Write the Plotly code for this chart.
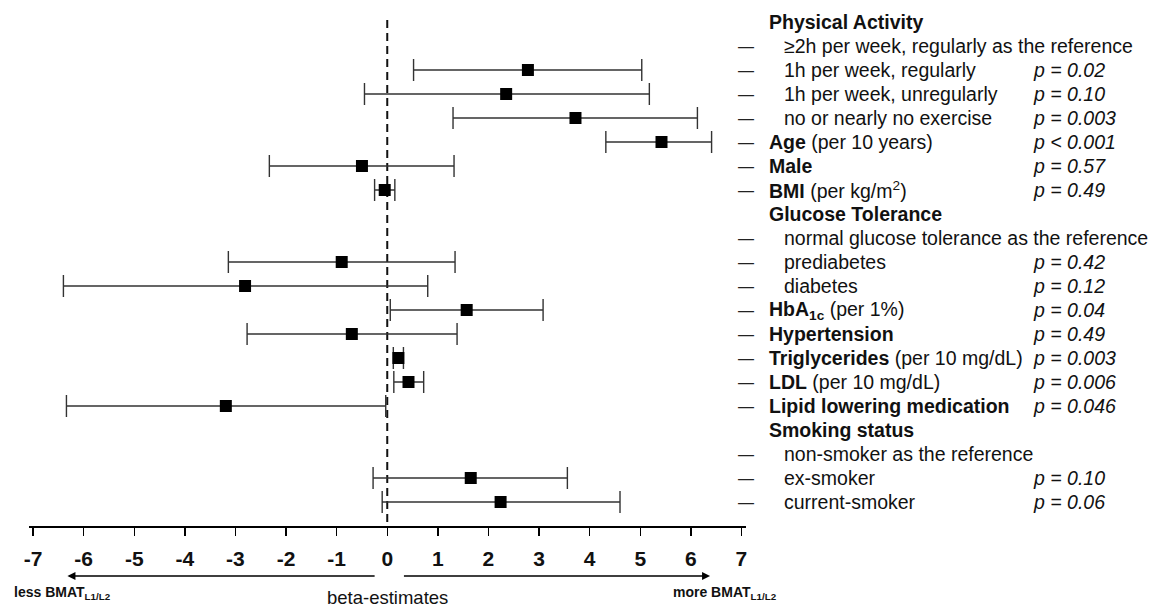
import plotly.graph_objects as go

# ---------------- data ----------------
row_labels = [
    "<b>Physical Activity</b>",
    "≥2h per week, regularly as the reference",
    "1h per week, regularly",
    "1h per week, unregularly",
    "no or nearly no exercise",
    "<b>Age</b> (per 10 years)",
    "<b>Male</b>",
    "<b>BMI</b> (per kg/m<sup>2</sup>)",
    "<b>Glucose Tolerance</b>",
    "normal glucose tolerance as the reference",
    "prediabetes",
    "diabetes",
    "<b>HbA<sub>1c</sub></b> (per 1%)",
    "<b>Hypertension</b>",
    "<b>Triglycerides</b> (per 10 mg/dL)",
    "<b>LDL</b> (per 10 mg/dL)",
    "<b>Lipid lowering medication</b>",
    "<b>Smoking status</b>",
    "non-smoker as the reference",
    "ex-smoker",
    "current-smoker",
]
# 0 = group header (no dash), 1 = sub item (indented), 2 = main variable
row_kind = [0, 1, 1, 1, 1, 2, 2, 2, 0, 1, 1, 1, 2, 2, 2, 2, 2, 0, 1, 1, 1]

estimate = [None, None, 2.78, 2.35, 3.72, 5.42, -0.50, -0.05, None, None,
            -0.90, -2.81, 1.57, -0.70, 0.22, 0.42, -3.19, None, None, 1.65, 2.24]
ci_lower = [None, None, 0.52, -0.45, 1.30, 4.32, -2.33, -0.25, None, None,
            -3.14, -6.40, 0.06, -2.77, 0.12, 0.13, -6.34, None, None, -0.28, -0.10]
ci_upper = [None, None, 5.03, 5.18, 6.13, 6.41, 1.32, 0.15, None, None,
            1.34, 0.80, 3.08, 1.38, 0.32, 0.72, -0.03, None, None, 3.56, 4.60]
p_values = ["", "", "p = 0.02", "p = 0.10", "p = 0.003", "p < 0.001", "p = 0.57",
            "p = 0.49", "", "", "p = 0.42", "p = 0.12", "p = 0.04", "p = 0.49",
            "p = 0.003", "p = 0.006", "p = 0.046", "", "", "p = 0.10", "p = 0.06"]

x_ticks = [-7, -6, -5, -4, -3, -2, -1, 0, 1, 2, 3, 4, 5, 6, 7]

# ---------------- layout geometry ----------------
W, H = 1151, 607
L, R, T, B = 29, 405, 10, 81
PW = W - L - R
PH = H - T - B
FONT = "Liberation Sans, Arial, sans-serif"
LABEL_SIZE = 19.5


def px_x(px):
    return (px - L) / PW


def px_y(py):
    return (T + PH - py) / PH


idx = [i for i, e in enumerate(estimate) if e is not None]
xs = [estimate[i] for i in idx]
ys = [i for i in idx]
err_plus = [ci_upper[i] - estimate[i] for i in idx]
err_minus = [estimate[i] - ci_lower[i] for i in idx]

fig = go.Figure()

# dashed zero reference line
fig.add_trace(go.Scatter(
    x=[0, 0], y=[-0.08, 21], mode="lines",
    line=dict(color="#111", width=2, dash="8px,5px"),
    hoverinfo="skip", showlegend=False))

fig.add_trace(go.Scatter(
    x=xs, y=ys, mode="markers",
    marker=dict(symbol="square", size=12, color="black"),
    error_x=dict(type="data", symmetric=False, array=err_plus,
                 arrayminus=err_minus, color="#333", thickness=1.4, width=11),
    showlegend=False, hoverinfo="skip"))

annotations = []
for i, lab in enumerate(row_labels):
    kind = row_kind[i]
    if kind != 0:
        annotations.append(dict(
            x=px_x(746), y=i, xref="paper", yref="y", text="—",
            showarrow=False, xanchor="center", yanchor="middle",
            font=dict(family=FONT, size=16, color="#222")))
    xpx = 782 if kind == 1 else 767
    annotations.append(dict(
        x=px_x(xpx), y=i, xref="paper", yref="y", text=lab,
        showarrow=False, xanchor="left", yanchor="middle",
        font=dict(family=FONT, size=LABEL_SIZE, color="#111")))
    if p_values[i]:
        annotations.append(dict(
            x=px_x(1031), y=i, xref="paper", yref="y",
            text="<i>" + p_values[i] + "</i>",
            showarrow=False, xanchor="left", yanchor="middle",
            font=dict(family=FONT, size=LABEL_SIZE, color="#111")))

# direction arrows
arrow_y = px_y(576)
annotations.append(dict(
    x=-6.32, y=arrow_y, xref="x", yref="paper", ax=-0.22, ay=0,
    axref="x", ayref="pixel", text="", showarrow=True, arrowhead=2,
    arrowsize=1, arrowwidth=1.6, arrowcolor="black"))
annotations.append(dict(
    x=6.38, y=arrow_y, xref="x", yref="paper", ax=0.30, ay=0,
    axref="x", ayref="pixel", text="", showarrow=True, arrowhead=2,
    arrowsize=1, arrowwidth=1.6, arrowcolor="black"))

annotations.append(dict(
    x=px_x(12), y=px_y(593), xref="paper", yref="paper",
    text="<b>less BMAT<sub>L1/L2</sub></b>", showarrow=False,
    xanchor="left", yanchor="middle",
    font=dict(family=FONT, size=14, color="#111")))
annotations.append(dict(
    x=px_x(671), y=px_y(593), xref="paper", yref="paper",
    text="<b>more BMAT<sub>L1/L2</sub></b>", showarrow=False,
    xanchor="left", yanchor="middle",
    font=dict(family=FONT, size=14, color="#111")))
annotations.append(dict(
    x=0, y=px_y(597), xref="x", yref="paper",
    text="beta-estimates", showarrow=False,
    xanchor="center", yanchor="middle",
    font=dict(family=FONT, size=18.5, color="#111")))

fig.update_layout(
    width=W, height=H,
    margin=dict(l=L, r=R, t=T, b=B, pad=0),
    paper_bgcolor="white", plot_bgcolor="white",
    annotations=annotations,
    xaxis=dict(
        range=[-7.08, 7.09], tickvals=x_ticks,
        ticktext=[str(v) for v in x_ticks],
        showgrid=False, zeroline=False,
        showline=True, linecolor="black", linewidth=1.5,
        ticks="outside", ticklen=8, tickwidth=1.5, tickcolor="black",
        tickfont=dict(family=FONT, size=21, color="#111", weight="bold"),
        ticklabelstandoff=5, fixedrange=True),
    yaxis=dict(
        range=[21, -0.5], showgrid=False, zeroline=False,
        showticklabels=False, showline=False, ticks="", fixedrange=True),
)

fig.write_html(
    "out.html",
    config={"displayModeBar": False, "staticPlot": True},
    post_script="document.body.style.margin='0';document.body.style.overflow='hidden';",
)
